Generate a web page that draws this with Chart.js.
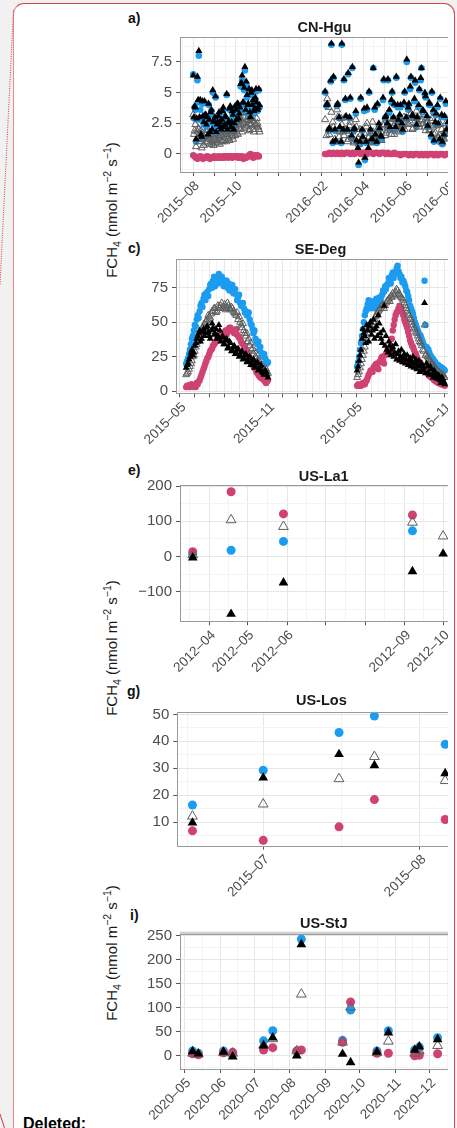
<!DOCTYPE html>
<html lang="en">
<head>
<meta charset="utf-8">
<title>FCH4 flux by site</title>
<script src="https://cdn.jsdelivr.net/npm/chart.js@4.4.1/dist/chart.umd.min.js"></script>
<style>
  html, body { margin: 0; padding: 0; }
  body { width: 457px; height: 1128px; overflow: hidden; background: #f1f1f1; position: relative;
         font-family: 'Liberation Sans', Arial, sans-serif; }
  #card { position: absolute; left: 13px; top: 3px; width: 442px; height: 1200px; box-sizing: border-box;
          background: #fff; border: 1.5px solid #d8454b; border-left-color: #e9898d; border-bottom: none;
          border-radius: 11px 11px 0 0; }
  #edge { position: absolute; left: 0; top: 0; }
  #plots { position: absolute; left: 0; top: 0; width: 448px; height: 1128px; overflow: hidden; }
  .panel { position: absolute; }
  .tag { position: absolute; font-weight: bold; font-size: 14px; line-height: 14px; color: #111; }
  .ylab { position: absolute; left: 111px; transform: translate(-50%, -50%) rotate(-90deg); white-space: nowrap;
          font-size: 15px; line-height: 15px; color: #1a1a1a; }
  .ylab sub, .ylab sup { font-size: 10.5px; line-height: 0; }
  #deleted { position: absolute; left: 23px; top: 1116px; font-weight: bold; font-size: 16px; line-height: 16px; color: #000; }
</style>
</head>
<body>
<div id="card"></div>
<svg id="edge" width="457" height="1128">
  <line x1="13.5" y1="10" x2="0" y2="285" stroke="#d8383f" stroke-width="1" stroke-dasharray="1 1.3"/>
  <line x1="0" y1="1114" x2="4.5" y2="1128" stroke="#d8383f" stroke-width="1"/>
</svg>

<div class="tag" style="left:128px;top:11px">a)</div>
<div class="tag" style="left:128px;top:241px">c)</div>
<div class="tag" style="left:128px;top:463px">e)</div>
<div class="tag" style="left:127px;top:684px">g)</div>
<div class="tag" style="left:130px;top:908px">i)</div>

<div class="ylab" style="top:210px">FCH<sub>4</sub> (nmol m<sup>−2</sup> s<sup>−1</sup>)</div>
<div class="ylab" style="top:648px">FCH<sub>4</sub> (nmol m<sup>−2</sup> s<sup>−1</sup>)</div>
<div class="ylab" style="top:953px">FCH<sub>4</sub> (nmol m<sup>−2</sup> s<sup>−1</sup>)</div>

<div id="plots">
  <div class="panel"><canvas id="hguChart"></canvas></div>
  <div class="panel"><canvas id="degChart"></canvas></div>
  <div class="panel"><canvas id="la1Chart"></canvas></div>
  <div class="panel"><canvas id="losChart"></canvas></div>
  <div class="panel"><canvas id="stjChart"></canvas></div>
</div>

<div id="deleted">Deleted:</div>

<script>
// ---- CN-Hgu, 2015 season: two interleaved 2-day sample sets
const hguStart15 = '2015-08-01', hguStart15b = '2015-08-02', hguStep15 = 2;
const hguBlue15 = [6.5, 3.8, 1.0, 6.0, 8.0, 3.6, 1.2, 3.0, 4.2, 3.1, 2.8, 4.0, 1.6, 3.5, 5.0, 2.5,
  4.6, 2.2, 3.0, 2.4, 1.8, 3.4, 2.1, 2.9, 4.8, 2.3, 3.6, 2.0, 3.3, 1.9, 3.8,
  2.6, 4.0, 3.2, 5.5, 6.0, 4.1, 6.8, 5.7, 3.9, 5.2, 2.8, 5.0, 4.3, 3.6, 5.1, 3.5, 5.2];
const hguBlack15 = [6.4, 3.9, 1.2, 6.3, 8.4, 4.4, 1.4, 3.1, 4.3, 3.2, 3.0, 4.1, 1.8, 3.6, 5.2, 2.7,
  4.7, 2.4, 3.1, 2.6, 2.0, 3.5, 2.2, 3.1, 4.9, 2.5, 3.7, 2.2, 3.5, 2.0, 3.9,
  2.8, 4.1, 3.3, 5.7, 6.4, 4.2, 7.1, 5.9, 4.0, 5.3, 3.0, 5.2, 4.4, 3.7, 5.3, 3.6, 5.3];
const hguOpen15 = [3.2, 1.9, 0.6, 1.8, 2.0, 1.6, 0.5, 1.4, 1.7, 1.5, 0.9, 1.2, 1.8, 0.8, 1.0, 1.3,
  0.9, 1.1, 1.4, 0.8, 1.5, 1.0, 1.6, 1.2, 1.8, 1.3, 1.1, 1.7, 1.4, 1.9, 1.5,
  2.0, 1.6, 2.3, 2.8, 1.8, 2.5, 3.0, 2.2, 2.7, 1.9, 2.4, 2.9, 2.0, 2.6, 2.3, 2.5, 2.0];
const hguPink15 = [-0.1, -0.2, -0.3, -0.4, -0.3, -0.2, -0.3, -0.4, -0.3, -0.3, -0.2, -0.3, -0.4, -0.3, -0.3, -0.2,
  -0.3, -0.3, -0.2, -0.3, -0.3, -0.2, -0.3, -0.2, -0.2, -0.3, -0.2, -0.2, -0.3, -0.2, -0.2,
  -0.2, -0.3, -0.2, -0.3, -0.2, -0.4, -0.3, -0.3, -0.2, -0.1, 0.0, -0.2, -0.3, -0.1, -0.2, -0.1, -0.2];
const hguBlue15b = [2.9, 3.6, 2.8, 4.2, 2.8, 1.4, 4.1, 2.4, 3.0, 2.2, 1.4, 2.6, 3.2, 1.8, 2.4,
  2.8, 1.6, 2.4, 3.2, 2.0, 2.6, 3.6, 2.2, 2.8, 1.8, 2.5, 3.7, 2.4, 3.0, 2.3,
  3.4, 3.9, 2.7, 3.6, 5.6, 4.0, 5.2, 3.4, 4.6, 3.9, 3.2, 4.8, 3.8, 3.3, 4.4, 4.0, 3.6, 3.8];
const hguBlack15b = [3.0, 3.8, 2.9, 4.4, 3.0, 1.6, 4.3, 2.6, 3.2, 2.4, 1.6, 2.8, 3.4, 2.0, 2.6,
  3.0, 1.8, 2.6, 3.4, 2.2, 2.8, 3.8, 2.4, 3.0, 2.0, 2.7, 3.9, 2.6, 3.2, 2.5,
  3.6, 4.1, 2.9, 3.8, 5.8, 4.2, 5.4, 3.6, 4.8, 4.1, 3.4, 5.0, 4.0, 3.5, 4.6, 4.2, 3.8, 4.0];
const hguOpen15b = [1.6, 2.4, 1.2, 2.1, 1.0, 1.9, 1.3, 0.7, 1.6, 1.0, 1.4, 0.8, 1.3, 1.1, 0.7,
  1.2, 1.5, 0.9, 1.3, 1.7, 1.1, 1.4, 1.9, 1.0, 1.6, 1.3, 2.0, 1.5, 1.2, 1.8,
  2.2, 1.7, 2.6, 2.0, 2.4, 3.1, 2.1, 2.6, 2.3, 2.8, 2.0, 2.5, 2.7, 1.8, 2.4, 2.9, 2.2, 1.8];

// ---- CN-Hgu, 2016 season: two interleaved 3-day sample sets
const hguStart16 = '2016-02-06', hguStart16b = '2016-02-08', hguStep16 = 3;
const hguBlue16 = [5.0, 4.0, 2.0, 8.9, 6.2, 1.0, 4.0, 2.0,
  8.9, 6.0, 3.0, 6.5, 4.5, 7.0, 2.0, 1.0, -0.9, 4.5, 1.2,
  -0.5, 3.6, 5.0, 1.0, 7.0, 1.5, 4.0, 2.0, 1.2, 6.0,
  3.0, 6.0, 2.0, 5.0, 4.0, 6.2, 2.6, 3.8, 1.8, 5.0,
  7.5, 4.0, 6.2, 3.0, 5.8, 2.8, 5.2, 7.0, 3.4, 4.6,
  2.2, 4.0, 5.0, 1.0, 3.2, 2.4, 4.5, 0.8, 3.0, 1.8];
const hguBlack16 = [5.1, 4.1, 2.1, 9.0, 6.3, 1.1, 4.1, 2.2,
  9.0, 6.1, 3.1, 6.6, 4.6, 7.1, 2.1, 1.1, -0.7, 4.6, 1.4,
  -0.3, 3.8, 5.1, 1.2, 7.0, 1.6, 4.1, 2.1, 1.4, 6.1,
  3.1, 6.1, 2.2, 5.1, 4.1, 6.3, 2.8, 4.0, 2.0, 5.1,
  7.7, 4.1, 6.3, 3.1, 6.0, 3.0, 5.3, 7.0, 3.5, 4.7,
  2.3, 4.1, 5.1, 1.1, 3.3, 2.5, 4.6, 1.0, 3.1, 2.0];
const hguOpen16 = [2.8, 4.5, 1.6, 3.4, 2.2, 1.0, 3.0, 1.8,
  2.4, 1.5, 2.0, 1.2, 2.6, 1.8, 1.0, 2.2, 0.8, 1.6, 1.2,
  1.0, 2.5, 1.4, 0.9, 1.8, 1.2, 2.0, 1.5, 1.1, 2.3,
  1.7, 2.4, 1.9, 2.8, 1.6, 2.2, 2.6, 1.9, 2.3, 2.0,
  2.9, 2.4, 3.3, 2.1, 2.7, 3.0, 2.2, 2.8, 2.5, 1.9,
  2.6, 2.0, 2.9, 1.6, 2.3, 1.4, 2.4, 0.9, 1.8, 1.3];
const hguPink16 = [0.0, 0.0, 0.1, 0.0, 0.1, 0.0, 0.1, 0.0,
  0.1, 0.0, 0.1, 0.1, 0.0, 0.1, 0.0, 0.1, 0.1, 0.0, 0.1,
  0.1, 0.0, 0.1, 0.1, 0.0, 0.1, 0.1, 0.0, 0.1, 0.1,
  0.0, 0.1, 0.0, 0.0, 0.1, 0.0, 0.0, -0.1, 0.0, 0.0,
  0.0, -0.1, 0.0, -0.1, 0.0, 0.0, -0.1, 0.0, -0.1, 0.0,
  -0.1, 0.0, 0.0, -0.1, 0.0, -0.1, 0.0, 0.0, -0.1, 0.0];
const hguBlue16b = [3.9, 1.9, 5.9, 0.9, 1.9, 3.9, 2.9, 0.9,
  1.9, 4.4, 1.9, 2.9, 1.3, 1.9, 3.3, 0.3, 0.8, 1.9, 3.5,
  0.9, 0.3, 1.9, 1.0, 3.6, 0.9, 2.3, 1.3, 4.4, 2.9,
  2.3, 3.4, 4.2, 2.9, 2.0, 3.8, 3.0, 2.3, 4.0, 2.8,
  3.6, 5.3, 3.0, 4.3, 2.2, 3.8, 6.0, 3.4, 4.8, 2.9,
  4.0, 1.4, 3.4, 2.4, 3.8, 1.0, 3.0, 1.4, 4.1, 2.4];
const hguBlack16b = [4.0, 2.0, 6.0, 1.0, 2.0, 4.0, 3.0, 1.0,
  2.0, 4.5, 2.0, 3.0, 1.5, 2.0, 3.5, 0.5, 1.0, 2.0, 3.7,
  1.0, 0.5, 2.0, 1.2, 3.8, 1.0, 2.5, 1.5, 4.6, 3.0,
  2.5, 3.6, 4.4, 3.0, 2.2, 4.0, 3.2, 2.5, 4.2, 3.0,
  3.8, 5.5, 3.2, 4.5, 2.4, 4.0, 6.2, 3.6, 5.0, 3.1,
  4.2, 1.6, 3.6, 2.6, 4.0, 1.2, 3.2, 1.6, 4.3, 2.6];
const hguOpen16b = [1.5, 3.8, 2.0, 2.6, 1.2, 3.6, 1.4, 2.9,
  1.8, 3.0, 1.0, 2.3, 1.4, 0.9, 2.8, 1.3, 2.0, 1.1, 1.7,
  2.2, 1.3, 1.7, 2.6, 1.0, 1.6, 2.2, 1.8, 2.4, 1.5,
  2.1, 2.9, 1.6, 2.3, 2.5, 1.8, 2.7, 2.2, 3.0, 2.6,
  2.5, 3.2, 2.0, 2.9, 3.5, 2.4, 2.7, 3.2, 2.2, 2.6,
  1.9, 2.7, 2.2, 1.7, 2.8, 1.5, 2.0, 1.2, 2.5, 1.6];
const hguXLabels = ['2015-08', '2015-10', '2016-02', '2016-04', '2016-06', '2016-08'];
const hguYTicks = [0, 2.5, 5, 7.5];

// ---- SE-Deg: two interleaved 4-day sample sets per growing season
const degStart15 = '2015-05-14', degStart15b = '2015-05-16', degStep = 4;
const degBlue15 = [20, 24, 30, 38, 44, 47, 55, 58, 64, 67, 66, 72, 74, 78, 80, 76, 82, 85, 79, 81,
  77, 80, 78, 74, 77, 72, 70, 68, 64, 62, 60, 58, 55, 52, 48, 42, 38, 34, 30, 28, 25, 24, 20];
const degOpen15 = [12, 14, 18, 22, 26, 32, 36, 40, 44, 47, 50, 52, 54, 56, 58, 60, 58, 61, 62, 60,
  63, 61, 62, 59, 60, 57, 55, 52, 50, 46, 44, 40, 36, 33, 30, 27, 25, 22, 20, 18, 16, 15, 14];
const degBlack15 = [17, 20, 25, 30, 28, 35, 40, 44, 38, 45, 42, 47, 40, 44, 46, 42, 38, 48, 36, 40,
  34, 38, 32, 35, 30, 33, 28, 31, 26, 29, 24, 27, 22, 25, 20, 23, 18, 21, 16, 19, 13, 15, 12];
const degPink15 = [3, 4, 3, 5, 4, 3, 5, 8, 12, 16, 20, 24, 27, 30, 33, 35, 37, 40, 38, 42,
  43, 41, 45, 46, 44, 42, 45, 40, 38, 35, 33, 30, 27, 24, 21, 18, 16, 13, 11, 10, 9, 7, 7];
const degBlue15b = [22, 27, 34, 40, 48, 52, 53, 62, 61, 70, 71, 69, 77, 75, 83, 80, 78, 80, 83, 76,
  80, 75, 73, 77, 71, 74, 66, 70, 62, 64, 57, 55, 57, 49, 45, 44, 36, 36, 32, 26, 27, 22, 21];
const degOpen15b = [13, 16, 20, 25, 29, 34, 38, 42, 46, 49, 51, 55, 53, 58, 60, 57, 62, 60, 64, 61,
  59, 64, 60, 61, 58, 56, 57, 54, 48, 49, 42, 42, 38, 35, 31, 29, 24, 23, 19, 19, 15, 16, 13];
const degBlack15b = [19, 23, 28, 26, 33, 38, 42, 36, 43, 40, 46, 43, 38, 49, 41, 45, 40, 44, 39, 34,
  37, 31, 36, 29, 32, 27, 30, 25, 28, 23, 26, 21, 24, 19, 22, 17, 20, 15, 18, 14, 12, 14, 10];
const degPink15b = [4, 3, 5, 3, 4, 6, 7, 10, 14, 18, 22, 25, 29, 31, 34, 36, 39, 37, 41, 40,
  44, 43, 46, 45, 43, 44, 41, 39, 36, 34, 31, 28, 25, 22, 19, 17, 14, 12, 10, 9, 8, 6, 8];

const degStart16 = '2016-05-03', degStart16b = '2016-05-05';
const degBlue16 = [18, 25, 35, 45, 55, 60, 66, 62, 64, 60, 67, 63, 65, 70, 72, 74, 78, 80, 84, 82,
  86, 91, 85, 83, 80, 76, 72, 66, 60, 56, 50, 46, 42, 40, 36, 80, 32, 30, 26, 24, 22, 20, 19, 18, 17, 16];
const degOpen16 = [10, 14, 20, 26, 32, 40, 45, 50, 48, 52, 55, 58, 60, 62, 60, 64, 66, 65, 68, 70,
  72, 73, 70, 68, 66, 62, 58, 55, 52, 48, 45, 42, 38, 35, 30, 48, 27, 24, 22, 20, 18, 16, 14, 13, 12, 11];
const degBlack16 = [15, 22, 30, 45, 40, 48, 36, 50, 44, 38, 47, 55, 42, 35, 62, 40, 28, 33, 30, 25,
  34, 27, 22, 30, 24, 20, 26, 22, 18, 25, 20, 16, 22, 18, 15, 64, 20, 14, 18, 12, 15, 10, 12, 8, 10, 7];
const degPink16 = [4, 5, 4, 6, 5, 8, 12, 15, 14, 18, 20, 16, 22, 25, 20, 27, 30, 28, 38, 48,
  55, 58, 62, 60, 55, 50, 46, 40, 35, 32, 28, 25, 22, 20, 17, 15, 14, 12, 11, 10, 8, 7, 6, 6, 5, 5];
const degBlue16b = [21, 30, 40, 50, 58, 63, 60, 65, 61, 66, 62, 68, 68, 73, 76, 77, 82, 78, 86, 85,
  89, 87, 82, 79, 78, 73, 69, 62, 58, 53, 48, 44, 41, 38, 34, 48, 31, 28, 25, 23, 21, 19, 18, 17, 16, 15];
const degOpen16b = [12, 17, 23, 29, 36, 42, 47, 46, 50, 54, 57, 59, 61, 63, 62, 65, 67, 69, 71, 69,
  74, 71, 69, 67, 64, 60, 56, 53, 50, 46, 43, 40, 36, 33, 29, 26, 25, 23, 21, 19, 17, 15, 14, 12, 12, 10];
const degBlack16b = [18, 26, 38, 42, 35, 44, 47, 41, 52, 45, 40, 49, 38, 44, 33, 30, 36, 26, 32, 28,
  23, 29, 25, 21, 27, 23, 19, 24, 21, 17, 23, 19, 14, 20, 17, 13, 18, 12, 16, 10, 13, 9, 11, 6, 9, 5];
const degPink16b = [5, 4, 5, 5, 7, 10, 13, 14, 17, 19, 18, 21, 24, 22, 26, 29, 27, 33, 44, 52,
  57, 60, 61, 57, 52, 48, 43, 37, 33, 30, 27, 23, 21, 18, 16, 14, 13, 11, 10, 9, 8, 7, 6, 5, 5, 4];
const degXLabels = ['2015-05', '2015-11', '2016-05', '2016-11'];
const degYTicks = [0, 25, 50, 75];

// ---- US-La1: chamber campaigns
const la1Dates = ['2012-03-19', '2012-04-18', '2012-05-29', '2012-09-07', '2012-10-01'];
const la1Blue = [7, 18, 43, 73, null];
const la1Black = [-3, -163, -74, -42, 8];
const la1Open = [5, 104, 85, 97, 58];
const la1Pink = [14, 184, 121, 118, null];
const la1XLabels = ['2012-04', '2012-05', '2012-06', '2012-09', '2012-10'];
const la1YTicks = [-100, 0, 100, 200];

// ---- US-Los
const losDates = ['2015-06-17', '2015-07-01', '2015-07-16', '2015-07-23', '2015-08-06'];
const losBlue = [16.4, 29.3, 43.3, 49.4, 38.9];
const losBlack = [9.8, 26.5, 35.2, 31.1, 28.1];
const losOpen = [12.2, 16.7, 26.1, 34.3, 25.4];
const losPink = [6.8, 3.3, 8.3, 18.4, 11.0];
const losXLabels = ['2015-07', '2015-08'];
const losYTicks = [10, 20, 30, 40, 50];

// ---- US-StJ
const stjDates = ['2020-05-08', '2020-05-13', '2020-06-04', '2020-06-12', '2020-07-09', '2020-07-17',
  '2020-08-07', '2020-08-11', '2020-09-16', '2020-09-23', '2020-10-16', '2020-10-26',
  '2020-11-18', '2020-11-22', '2020-12-08'];
const stjBlue = [10, 5, 10, 4, 31, 52, 9, 243, 32, 95, 10, 52, 12, 18, 37.5];
const stjBlack = [9, 4, 8, -2, 21, 37.5, 0, 232, 3.5, -14, 8, 48, 12, 19, 34];
const stjOpen = [5, 3, 6, 5, 22, 35, 10, 128, 28, 101, 6, 30, 5, 10, 21];
const stjPink = [4, 2, 6, 7, 12, 16.7, 10, 12, 28, 112, 5, 5, 0, 1, 4];
const stjXLabels = ['2020-05', '2020-06', '2020-07', '2020-08', '2020-09', '2020-10', '2020-11', '2020-12'];
const stjYTicks = [0, 50, 100, 150, 200, 250];

const FONT = "'Liberation Sans', Arial, sans-serif";
const BLUE = '#1b9cf0', PINK = '#cf4273', OPEN = '#5e5e5e';
const GRID = '#e6e6e6', GRID_MINOR = '#f3f3f3', TICK = '#555555', TEXT = '#4d4d4d';
const TITLE_SIZE = 14.5, TITLE_LINE = TITLE_SIZE * 1.2;
const DAY = 864e5;

Chart.defaults.font.family = FONT;
Chart.defaults.animation = false;

const day = s => Date.UTC(+s.slice(0, 4), +s.slice(5, 7) - 1, +s.slice(8, 10)) / DAY;

// regular samples: [start, step in days, values] groups merged into one point list
function stepped(...groups) {
  const out = [];
  groups.forEach(([start, step, values]) => {
    const d0 = day(start);
    values.forEach((v, i) => out.push({ x: d0 + i * step, y: v }));
  });
  return out;
}
function dated(dates, values) {
  return dates.map((d, i) => values[i] === null ? null : { x: day(d), y: values[i] }).filter(p => p);
}

// month starts are major ticks, mid-months carry the minor grid
function monthTicks(min, max) {
  const out = [];
  const d0 = new Date(min * DAY);
  let y = d0.getUTCFullYear(), m = d0.getUTCMonth();
  for (;;) {
    const a = Date.UTC(y, m, 1) / DAY, b = Date.UTC(y, m + 1, 1) / DAY;
    if (a > max) break;
    if (a >= min) out.push({ value: a, minor: false });
    const mid = (a + b) / 2;
    if (mid >= min && mid <= max) out.push({ value: mid, minor: true });
    m++;
  }
  return out;
}
function valueTicks(min, max, majors) {
  const step = majors[1] - majors[0];
  const out = [];
  for (let v = majors[0] - step; v <= majors[majors.length - 1] + step + 1e-9; v += step / 2) {
    if (v >= min && v <= max) out.push({ value: v, minor: !majors.some(t => Math.abs(t - v) < 1e-9) });
  }
  return out;
}
const fmtValue = v => (v < 0 ? '\u2212' + Math.abs(v) : String(v));
function fmtMonth(v, labels) {
  const d = new Date(v * DAY);
  const key = d.getUTCFullYear() + '-' + String(d.getUTCMonth() + 1).padStart(2, '0');
  return labels.includes(key) ? key.replace('-', '\u2013') : '';
}

const panelFrame = {
  id: 'panelFrame',
  defaults: { color: '#9a9a9a', topWidth: 0, topColor: '#cfcfcf' },
  afterDatasetsDraw(chart, args, opts) {
    const { ctx, chartArea: a } = chart;
    ctx.save();
    if (opts.topWidth) {
      ctx.fillStyle = opts.topColor;
      ctx.fillRect(a.left, a.top - opts.topWidth + 1, a.width, opts.topWidth);
    }
    ctx.strokeStyle = opts.color;
    ctx.lineWidth = 1;
    ctx.strokeRect(Math.round(a.left) + 0.5, Math.round(a.top) + 0.5, Math.round(a.width), Math.round(a.height));
    ctx.restore();
  }
};

function layers(black, open, pink, blue, r) {
  const tri = r * 1.25;
  return [
    { data: black, pointStyle: 'triangle', pointRadius: tri, pointBackgroundColor: '#000', pointBorderWidth: 0 },
    { data: open, pointStyle: 'triangle', pointRadius: tri, pointBackgroundColor: 'rgba(0,0,0,0)',
      pointBorderColor: OPEN, pointBorderWidth: 1 },
    { data: pink, pointStyle: 'circle', pointRadius: r, pointBackgroundColor: PINK, pointBorderWidth: 0 },
    { data: blue, pointStyle: 'circle', pointRadius: r, pointBackgroundColor: BLUE, pointBorderWidth: 0 }
  ];
}

function drawPanel(id, title, box, xRange, yRange, yMajors, xLabels, datasets) {
  const XH = 62;
  const left = Math.round(box.chartLeft - 50);
  const top = Math.round(box.titleMid - TITLE_LINE / 2);
  const width = Math.round(box.chartRight - left);
  const height = Math.round(box.chartBottom - top + XH);
  const canvas = document.getElementById(id);
  Object.assign(canvas.parentNode.style, {
    left: left + 'px', top: top + 'px', width: width + 'px', height: height + 'px'
  });
  const yw = box.chartLeft - left;
  const xh = height - (box.chartBottom - top);
  const titlePad = Math.max(0, box.chartTop - top - TITLE_LINE);
  const xMin = day(xRange[0]), xMax = day(xRange[1]);
  const gridColor = c => (c.tick && c.tick.minor ? GRID_MINOR : GRID);
  const tickColor = c => (c.tick && c.tick.minor ? 'rgba(0,0,0,0)' : TICK);

  new Chart(canvas, {
    type: 'scatter',
    data: { datasets },
    plugins: [panelFrame],
    options: {
      responsive: true,
      maintainAspectRatio: false,
      devicePixelRatio: 1,
      events: [],
      layout: { padding: 0 },
      scales: {
        x: {
          type: 'linear', min: xMin, max: xMax,
          afterBuildTicks: s => { s.ticks = monthTicks(xMin, xMax); },
          afterFit: s => { s.height = xh; s.paddingLeft = 0; s.paddingRight = 0; },
          ticks: {
            autoSkip: false, minRotation: 45, maxRotation: 45, padding: 2, labelOffset: 4,
            color: TEXT, font: { family: FONT, size: 13.5 },
            callback: (v, i, ticks) => (ticks[i].minor ? '' : fmtMonth(v, xLabels))
          },
          grid: { color: gridColor, tickColor, tickLength: 4, lineWidth: 1 },
          border: { display: false }
        },
        y: {
          type: 'linear', min: yRange[0], max: yRange[1],
          afterBuildTicks: s => { s.ticks = valueTicks(yRange[0], yRange[1], yMajors); },
          afterFit: s => { s.width = yw; s.paddingTop = 0; s.paddingBottom = 0; },
          ticks: {
            autoSkip: false, padding: 4, color: TEXT, font: { family: FONT, size: 15 },
            callback: (v, i, ticks) => (ticks[i].minor ? '' : fmtValue(v))
          },
          grid: { color: gridColor, tickColor, tickLength: 4, lineWidth: 1 },
          border: { display: false }
        }
      },
      plugins: {
        legend: { display: false },
        tooltip: { enabled: false },
        title: {
          display: true, text: title, fullSize: false, color: '#1a1a1a',
          font: { family: FONT, size: TITLE_SIZE, weight: 'bold' },
          padding: { top: 0, bottom: titlePad }
        },
        panelFrame: { topWidth: box.topRule || 0 }
      }
    }
  });
}

drawPanel('hguChart', 'CN-Hgu',
  { chartLeft: 180, chartRight: 474, chartTop: 37, chartBottom: 172, titleMid: 28 },
  ['2015-07-13', '2016-08-30'], [-1.47, 9.53], hguYTicks, hguXLabels,
  layers(
    stepped([hguStart15, hguStep15, hguBlack15], [hguStart15b, hguStep15, hguBlack15b],
            [hguStart16, hguStep16, hguBlack16], [hguStart16b, hguStep16, hguBlack16b]),
    stepped([hguStart15, hguStep15, hguOpen15], [hguStart15b, hguStep15, hguOpen15b],
            [hguStart16, hguStep16, hguOpen16], [hguStart16b, hguStep16, hguOpen16b]),
    stepped([hguStart15, hguStep15, hguPink15], [hguStart16, hguStep16, hguPink16]),
    stepped([hguStart15, hguStep15, hguBlue15], [hguStart15b, hguStep15, hguBlue15b],
            [hguStart16, hguStep16, hguBlue16], [hguStart16b, hguStep16, hguBlue16b]),
    3.3));

drawPanel('degChart', 'SE-Deg',
  { chartLeft: 176, chartRight: 470, chartTop: 259, chartBottom: 393.3, titleMid: 249.5 },
  ['2015-04-23', '2016-12-13'], [-1.5, 95.8], degYTicks, degXLabels,
  layers(
    stepped([degStart15, degStep, degBlack15], [degStart15b, degStep, degBlack15b],
            [degStart16, degStep, degBlack16], [degStart16b, degStep, degBlack16b]),
    stepped([degStart15, degStep, degOpen15], [degStart15b, degStep, degOpen15b],
            [degStart16, degStep, degOpen16], [degStart16b, degStep, degOpen16b]),
    stepped([degStart15, degStep, degPink15], [degStart15b, degStep, degPink15b],
            [degStart16, degStep, degPink16], [degStart16b, degStep, degPink16b]),
    stepped([degStart15, degStep, degBlue15], [degStart15b, degStep, degBlue15b],
            [degStart16, degStep, degBlue16], [degStart16b, degStep, degBlue16b]),
    3.2));

drawPanel('la1Chart', 'US-La1',
  { chartLeft: 180, chartRight: 474, chartTop: 485, chartBottom: 621.3, titleMid: 476.5 },
  ['2012-03-09', '2012-10-20'], [-183.7, 202], la1YTicks, la1XLabels,
  layers(dated(la1Dates, la1Black), dated(la1Dates, la1Open), dated(la1Dates, la1Pink), dated(la1Dates, la1Blue), 4.5));

drawPanel('losChart', 'US-Los',
  { chartLeft: 177.3, chartRight: 471.5, chartTop: 711.7, chartBottom: 845.7, titleMid: 700.5 },
  ['2015-06-14', '2015-08-10'], [1.3, 51], losYTicks, losXLabels,
  layers(dated(losDates, losBlack), dated(losDates, losOpen), dated(losDates, losPink), dated(losDates, losBlue), 4.5));

drawPanel('stjChart', 'US-StJ',
  { chartLeft: 180, chartRight: 474, chartTop: 933.7, chartBottom: 1069, titleMid: 923.5, topRule: 3 },
  ['2020-04-27', '2021-01-03'], [-27.7, 254.2], stjYTicks, stjXLabels,
  layers(dated(stjDates, stjBlack), dated(stjDates, stjOpen), dated(stjDates, stjPink), dated(stjDates, stjBlue), 4.5));
</script>
</body>
</html>
